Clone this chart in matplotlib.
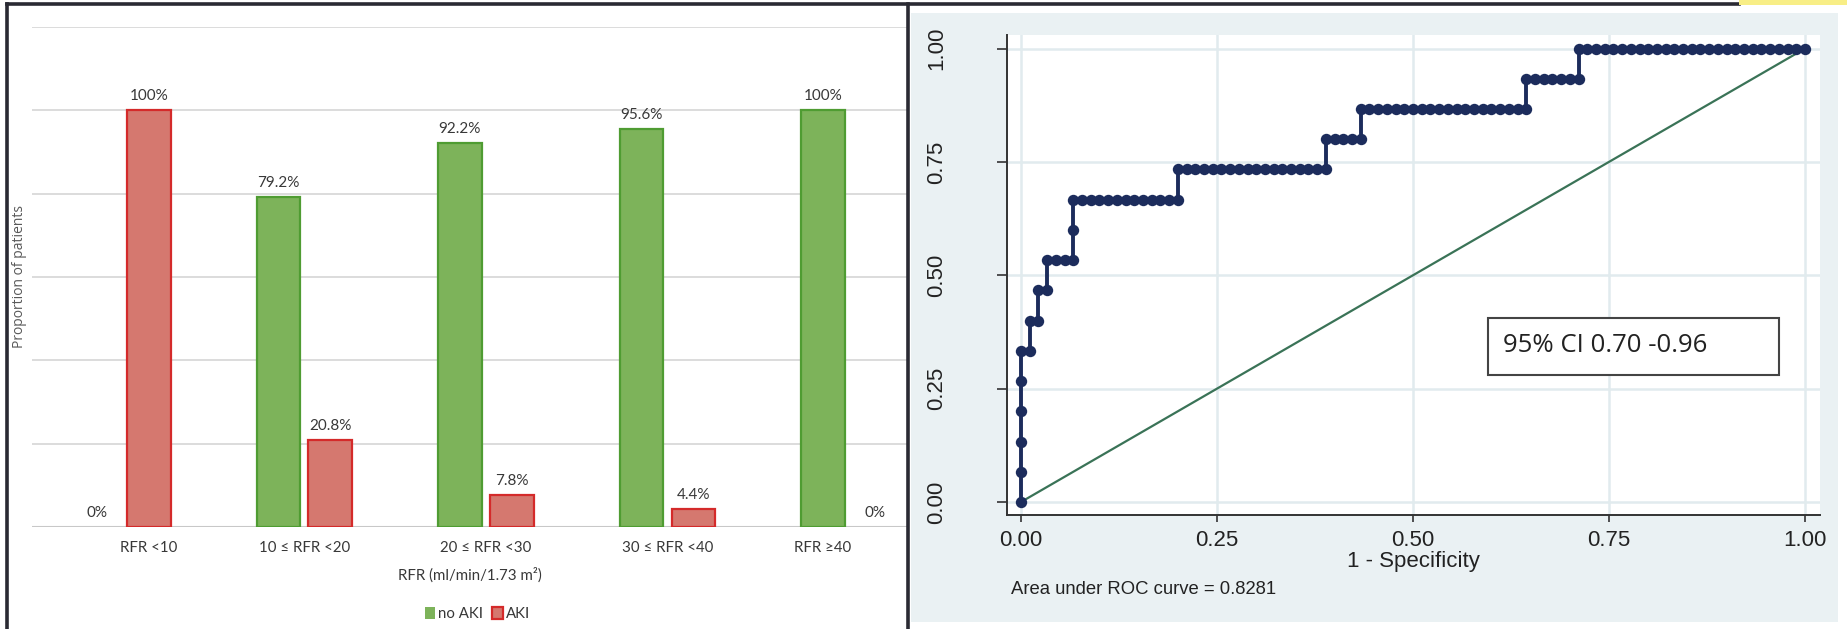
import numpy as np
import matplotlib
matplotlib.use("Agg")
import matplotlib.pyplot as plt
from matplotlib.patches import Rectangle

# proportion of patients (%) per RFR band
categories = ["RFR <10", "10 ≤ RFR <20", "20 ≤ RFR <30", "30 ≤ RFR <40", "RFR ≥40"]
no_aki = [0, 79.2, 92.2, 95.6, 100]
aki = [100, 20.8, 7.8, 4.4, 0]

# ROC input: cases ranked by descending score, given as alternating run lengths
# (AKI, no AKI, AKI, no AKI, ...)
ranked_runs = [5, 1, 1, 1, 1, 1, 1, 3, 2, 12, 1, 17, 1, 4, 1, 19, 1, 6, 1, 26]
ci_text = "95% CI 0.70 -0.96"

W, H = 1847, 629
fig = plt.figure(figsize=(W / 100, H / 100), dpi=100)
fig.patch.set_facecolor("white")


def fx(px):
    return px / W


def fy(py):
    return 1 - py / H


def px_axes(x0, y0, x1, y1):
    return fig.add_axes([fx(x0), fy(y1), (x1 - x0) / W, (y1 - y0) / H])


calib = ["Lato", "DejaVu Sans"]
arial = ["Liberation Sans", "DejaVu Sans"]
txt_grey = "#383838"

# ---------------- bar chart ----------------
ax1 = px_axes(32, 27, 907, 527)
ax1.set_xlim(-0.5, 4.32)
ax1.set_ylim(0, 120)
ax1.set_yticks(np.arange(0, 121, 20))
ax1.yaxis.grid(True, color="#D9D9D9", linewidth=1.3)
ax1.set_axisbelow(True)
ax1.tick_params(axis="y", left=False, labelleft=False)
for s in ax1.spines.values():
    s.set_visible(False)
ax1.axhline(0, color="#C8C8C8", linewidth=1.5, zorder=1)

x = np.arange(len(categories))
off, bw = 0.143, 0.24
green_fill, green_edge = "#7DB35A", "#4F9C32"
red_fill, red_edge = "#D5786F", "#D42A2A"

b_green = ax1.bar(x - off, no_aki, bw, color=green_fill, edgecolor=green_edge,
                  linewidth=[1.6 if v > 0 else 0 for v in no_aki], label="no AKI", zorder=2)
b_red = ax1.bar(x + off, aki, bw, color=red_fill, edgecolor=red_edge,
                linewidth=[1.6 if v > 0 else 0 for v in aki], label="AKI", zorder=2)
for bars in (b_green, b_red):
    ax1.bar_label(bars, fmt=lambda v: f"{v:g}%", padding=5, fontsize=11,
                  family=calib, color=txt_grey)

# each band label sits under the bars that are actually present in it
tick_pos = []
for i in range(len(categories)):
    shown = [p for p, v in ((i - off, no_aki[i]), (i + off, aki[i])) if v > 0]
    tick_pos.append(np.mean(shown))
ax1.set_xticks(tick_pos)
ax1.set_xticklabels(categories, fontsize=10.8, family=calib, color=txt_grey)
ax1.tick_params(axis="x", length=0, pad=10)

ax1.text(0.5, -0.096, "RFR (ml/min/1.73 m²)", transform=ax1.transAxes, ha="center",
         va="center", fontsize=10.8, family=calib, color=txt_grey)
ax1.legend(loc="center", bbox_to_anchor=(0.509, -0.174), ncol=2, frameon=False,
           prop={"family": calib, "size": 10.8}, handlelength=0.7, handleheight=0.9,
           handletextpad=0.2, columnspacing=0.6, labelcolor=txt_grey)
fig.text(fx(20), fy(277), "Proportion of patients", rotation=90, ha="center", va="center",
         fontsize=10, family=["Open Sans", "DejaVu Sans"], color="#595959")

# ---------------- ROC curve ----------------
bg = px_axes(911, 13, 1838, 622)
bg.set_facecolor("#EAF1F3")
bg.set_xticks([])
bg.set_yticks([])
for s in bg.spines.values():
    s.set_visible(False)

is_case = np.concatenate([np.full(n, i % 2 == 0) for i, n in enumerate(ranked_runs)])
sens = np.concatenate([[0], np.cumsum(is_case)]) / is_case.sum()
fpr = np.concatenate([[0], np.cumsum(~is_case)]) / (~is_case).sum()
auc = np.trapezoid(sens, fpr)

ax2 = px_axes(1007, 35, 1820, 515)
ax2.set_facecolor("white")
ax2.set_xlim(-0.0179, 1.0191)
ax2.set_ylim(-0.0287, 1.0298)
ticks = [0, 0.25, 0.5, 0.75, 1]
ax2.set_xticks(ticks)
ax2.set_yticks(ticks)
ax2.set_xticklabels([f"{t:.2f}" for t in ticks])
ax2.set_yticklabels([f"{t:.2f}" for t in ticks], rotation=90, va="center")
ax2.grid(True, color="#E1EBEE", linewidth=1.8)
ax2.set_axisbelow(True)
for side in ("top", "right"):
    ax2.spines[side].set_visible(False)
for side in ("left", "bottom"):
    ax2.spines[side].set_color("#333333")
    ax2.spines[side].set_linewidth(1.4)
ax2.tick_params(axis="y", length=7, width=1.2, color="#333333", pad=36)
ax2.tick_params(axis="x", length=5, width=1.2, color="#333333", pad=6)
for lab in ax2.get_xticklabels() + ax2.get_yticklabels():
    lab.set_fontsize(16)
    lab.set_family(arial)
    lab.set_color("#222222")

ax2.plot([0, 1], [0, 1], color="#3A7357", linewidth=1.6, zorder=2)
ax2.plot(fpr, sens, color="#1C2C5C", linewidth=2.8, marker="o", markersize=8.2,
         markeredgewidth=0, zorder=3, clip_on=False)

fig.text(fx(1413), fy(562), "1 - Specificity", ha="center", va="center", fontsize=16,
         family=arial, color="#222222")
fig.text(fx(1011), fy(589), f"Area under ROC curve = {auc:.4f}", ha="left", va="center",
         fontsize=13.3, family=arial, color="#222222")

ax2.add_patch(Rectangle((0.5916, 0.2917), 0.358, 0.119, transform=ax2.transAxes,
                        facecolor="white", edgecolor="#444444", linewidth=1.5, zorder=4))
ax2.text(0.610, 0.354, ci_text, transform=ax2.transAxes, ha="left", va="center",
         fontsize=18.5, family=["Open Sans", "DejaVu Sans"], color="#222222", zorder=5)

# ---------------- frame lines ----------------
frame = dict(color="#2A2A33", linewidth=2.6, transform=fig.transFigure, zorder=10)
fig.add_artist(plt.Line2D([fx(7), fx(1739)], [fy(4), fy(4)], **frame))
fig.add_artist(plt.Line2D([fx(7), fx(7)], [fy(4), 0], **frame))
fig.add_artist(plt.Line2D([fx(907.5), fx(907.5)], [fy(4), 0], **frame))
fig.add_artist(Rectangle((fx(1739), fy(5)), (W - 1739) / W, 5 / H,
                         transform=fig.transFigure, facecolor="#F8EE86", edgecolor="none",
                         zorder=10))

fig.savefig("out.png", dpi=100)
